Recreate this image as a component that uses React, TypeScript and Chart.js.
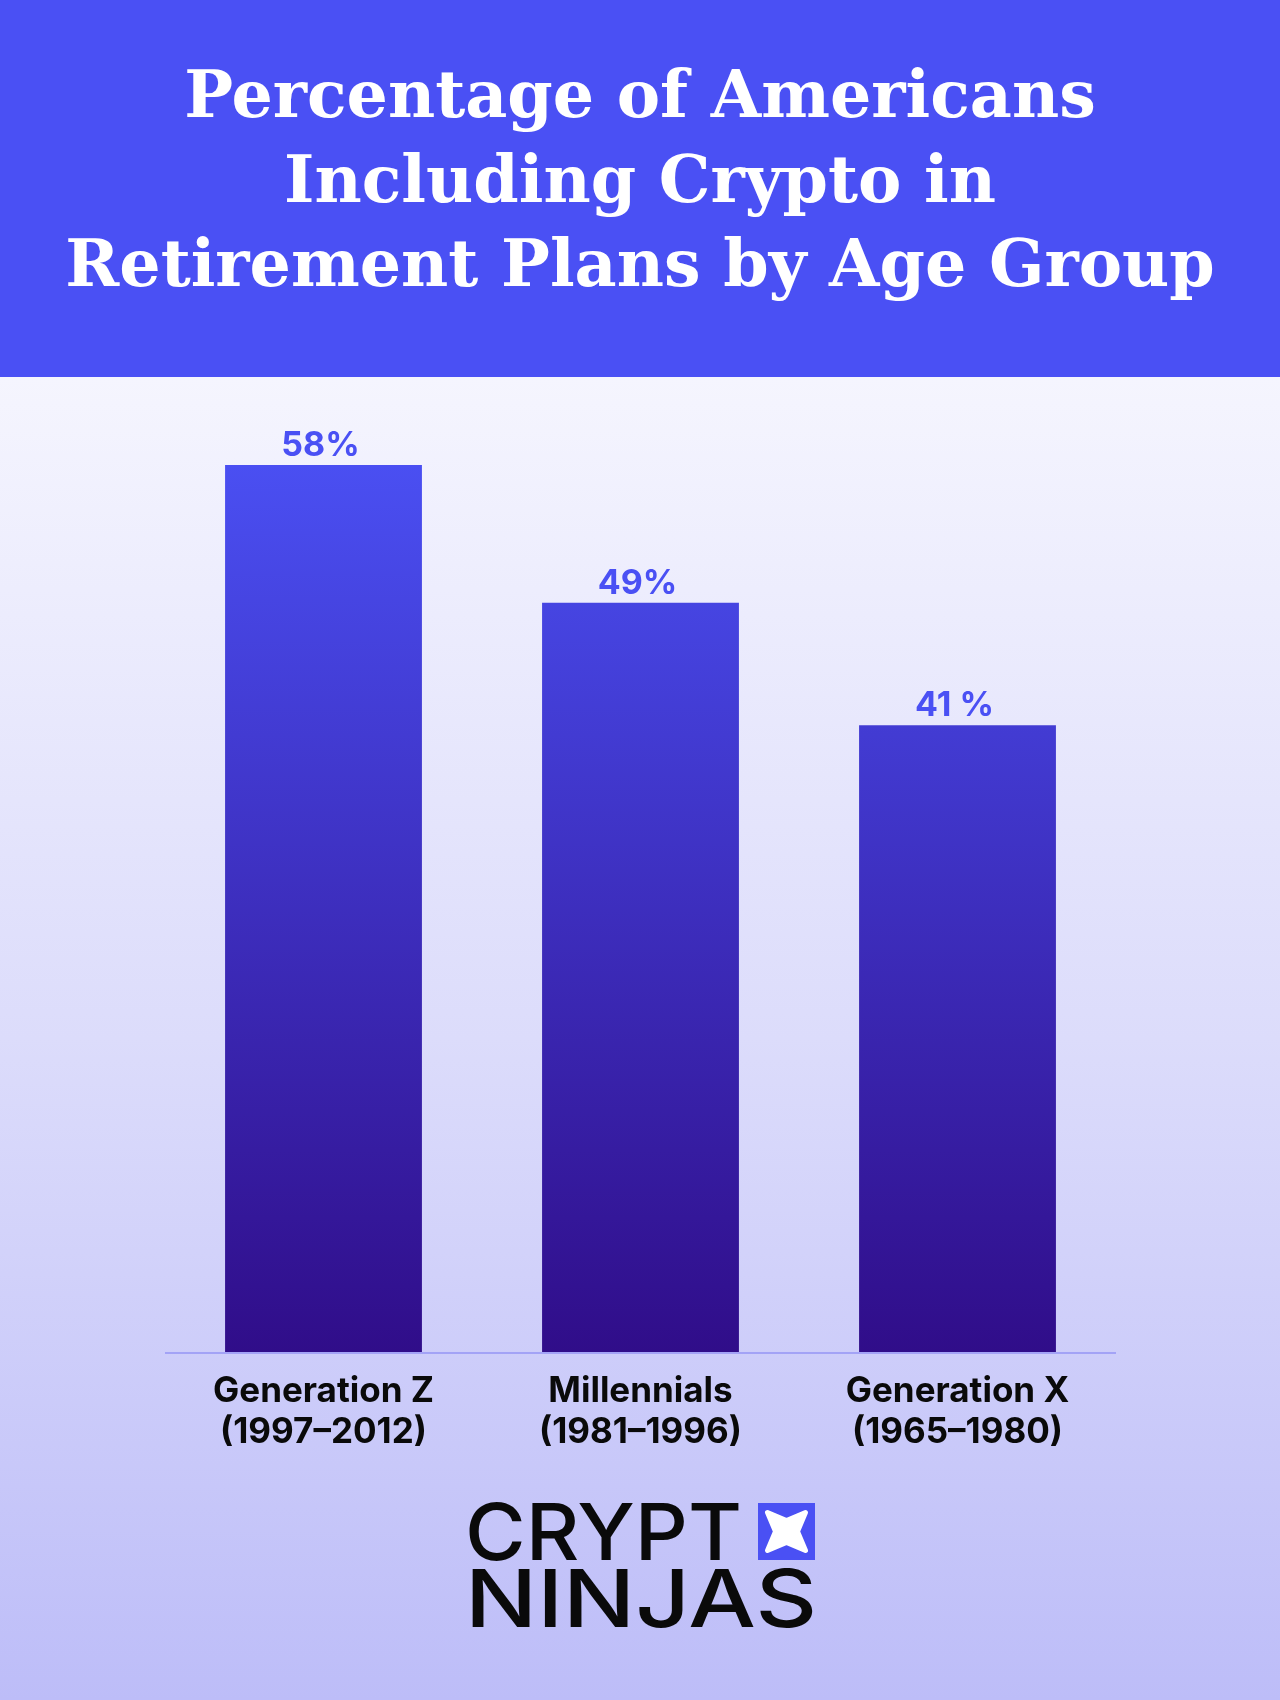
import React, { useEffect, useRef } from "react";
import { Chart, registerables } from "chart.js";

Chart.register(...registerables);

const titleLines = ["Percentage of Americans", "Including Crypto in", "Retirement Plans by Age Group"];
const categories = [["Generation Z", "(1997–2012)"], ["Millennials", "(1981–1996)"], ["Generation X", "(1965–1980)"]];
const values = [58, 49, 41];
const valueLabels = ["58%", "49%", "41 %"];
const logoTop = "CRYPT";
const logoBottom = "NINJAS";

const W = 1280;
const H = 1700;
const HEADER_H = 377;

const bgPlugin = {
  id: "bgPlugin",
  beforeDraw(chart: any) {
    const ctx = chart.ctx;
    ctx.save();
    const g = ctx.createLinearGradient(0, HEADER_H, 0, H);
    g.addColorStop(0, "#F5F5FE");
    g.addColorStop(0.5, "#DCDCFB");
    g.addColorStop(1, "#BDBDF8");
    ctx.fillStyle = g;
    ctx.fillRect(0, HEADER_H, W, H - HEADER_H);
    ctx.fillStyle = "#4A50F4";
    ctx.fillRect(0, 0, W, HEADER_H);
    // title
    ctx.fillStyle = "#FFFFFF";
    ctx.font = "bold 65px 'DejaVu Serif'";
    ctx.textAlign = "center";
    ctx.textBaseline = "alphabetic";
    titleLines.forEach((t, i) => {
      ctx.fillText(t, W / 2, 117 + i * 84.5);
    });
    ctx.restore();
  },
};

function fitText(ctx: any, text: string, x: number, y: number, w: number, font: string) {
  ctx.font = font;
  const m = ctx.measureText(text);
  const sx = w / m.width;
  ctx.save();
  ctx.translate(x, y);
  ctx.scale(sx, 1);
  ctx.fillText(text, 0, 0);
  ctx.restore();
}

const overlayPlugin = {
  id: "overlayPlugin",
  afterDatasetsDraw(chart: any) {
    const ctx = chart.ctx;
    const meta = chart.getDatasetMeta(0);
    ctx.save();
    ctx.fillStyle = "#4A50F4";
    ctx.font = "bold 34px Inter";
    ctx.textAlign = "center";
    ctx.textBaseline = "alphabetic";
    meta.data.forEach((bar: any, i: number) => {
      ctx.fillText(valueLabels[i], bar.x - 3, bar.y - 9);
    });
    ctx.restore();

    // axis line
    const area = chart.chartArea;
    ctx.save();
    ctx.strokeStyle = "#A3A3F6";
    ctx.lineWidth = 2;
    ctx.beginPath();
    ctx.moveTo(area.left, area.bottom);
    ctx.lineTo(area.right, area.bottom);
    ctx.stroke();
    ctx.restore();

    // logo
    ctx.save();
    ctx.fillStyle = "#0A0A0A";
    ctx.textAlign = "left";
    ctx.textBaseline = "alphabetic";
    fitText(ctx, logoTop, 465, 1560, 277, "500 79px Inter");
    fitText(ctx, logoBottom, 465, 1627, 352, "500 80px Inter");
    // icon
    ctx.fillStyle = "#4A50F4";
    ctx.fillRect(758, 1503, 57, 57);
    ctx.fillStyle = "#FFFFFF";
    const cx = 786.5, cy = 1531.5;
    ctx.beginPath();
    const pts = [
      [-19, -19], [0, -11], [19, -19], [11, 0], [19, 19], [0, 11], [-19, 19], [-11, 0],
    ];
    ctx.moveTo(cx + pts[0][0], cy + pts[0][1]);
    for (let i = 1; i <= pts.length; i++) {
      const p = pts[i % pts.length];
      ctx.lineTo(cx + p[0], cy + p[1]);
    }
    ctx.closePath();
    ctx.lineJoin = "round";
    ctx.strokeStyle = "#FFFFFF";
    ctx.lineWidth = 5;
    ctx.fill();
    ctx.stroke();
    ctx.restore();
  },
};

export default function App() {
  const ref = useRef<HTMLCanvasElement | null>(null);
  useEffect(() => {
    document.body.style.margin = "0";
    const canvas = ref.current!;
    const chart = new Chart(canvas, {
      type: "bar",
      data: {
        labels: categories,
        datasets: [
          {
            data: values,
            backgroundColor: (c: any) => {
              const ch = c.chart;
              const a = ch.chartArea;
              if (!a) return "#4A4FF2";
              const g = ch.ctx.createLinearGradient(0, 465, 0, a.bottom);
              g.addColorStop(0, "#4A4FF2");
              g.addColorStop(1, "#300D89");
              return g;
            },
            borderWidth: 0,
            barPercentage: 0.621,
            categoryPercentage: 1,
          },
        ],
      },
      options: {
        responsive: false,
        animation: false,
        devicePixelRatio: 1,
        layout: { padding: { left: 165, right: 164, top: 434.4, bottom: 247 } },
        plugins: {
          legend: { display: false },
          tooltip: { enabled: false },
          title: { display: false },
        },
        scales: {
          x: {
            grid: { display: false, drawTicks: false },
            border: { display: false },
            ticks: {
              color: "#0A0A0A",
              font: { family: "Inter", weight: "bold", size: 35, lineHeight: 1.17 },
              padding: 18,
              maxRotation: 0,
              autoSkip: false,
            },
            afterFit: (s: any) => {
              s.height = 100;
            },
          },
          y: {
            display: false,
            min: 0,
            max: 60,
          },
        },
      },
      plugins: [bgPlugin, overlayPlugin],
    } as any);
    return () => chart.destroy();
  }, []);
  return <canvas ref={ref} width={W} height={H} style={{ display: "block", width: W, height: H }} />;
}
